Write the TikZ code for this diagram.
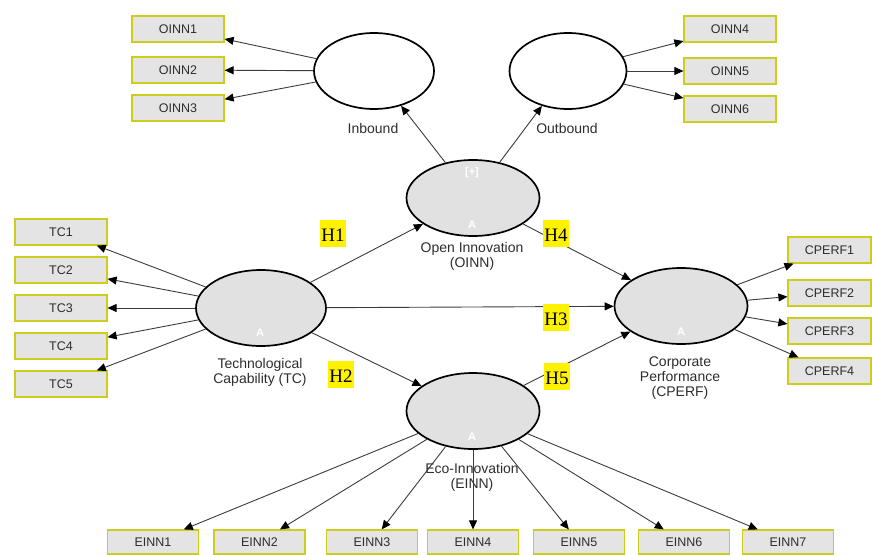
\documentclass[tikz,border=0pt]{standalone}
\usepackage{fontspec}
\setmainfont{Liberation Sans}
\newfontfamily\hypfont{Liberation Serif}
\usetikzlibrary{shapes.geometric,arrows.meta}
\definecolor{boxgray}{RGB}{228,228,228}
\definecolor{boxline}{RGB}{205,205,30}
\definecolor{latgray}{RGB}{225,225,225}
\definecolor{txtgray}{RGB}{45,45,45}
\definecolor{lnkgray}{RGB}{60,60,60}
\tikzset{
  indic/.style={draw=boxline, fill=boxgray, line width=1.2pt, minimum width=92pt,
    minimum height=26pt, inner sep=0pt, font=\fontsize{12.5}{15}\selectfont, text=txtgray},
  latent/.style={ellipse, draw, line width=1.7pt, fill=latgray, minimum width=133pt,
    minimum height=76pt, inner sep=0pt},
  ordre/.style={latent, fill=white, minimum width=120pt},
  lien/.style={draw=lnkgray, line width=0.9pt, -{Triangle[length=9pt,width=8pt,color=black]}},
  etiq/.style={align=center, font=\fontsize{14}{15}\selectfont, text=txtgray},
  hyp/.style={fill=yellow, inner xsep=1pt, inner ysep=3.5pt, text height=18pt,
    text depth=2pt, font=\hypfont\fontsize{19}{19}\selectfont},
  marque/.style={text=white, font=\fontsize{11}{11}\selectfont\bfseries}
}
\begin{document}
\begin{tikzpicture}[x=1pt,y=-1pt] % ------ Le modele structurel -----------------
    \useasboundingbox (0,0) rectangle (872,554);
    \node [ordre] (inb) at (374,71) {};
    \node [ordre, minimum width=117pt] (outb) at (568,71) {};
    \node [latent] (oinn) at (473,198) {};
    \node [latent, minimum width=130pt] (tc) at (261,308) {};
    \node [latent] (cperf) at (681,306) {};
    \node [latent] (einn) at (473,411) {};
    \foreach \i/\y in {1/29,2/70,3/108} \node [indic] (oinn\i) at (178,\y) {OINN\i};
    \foreach \i/\y in {4/29,5/71,6/109} \node [indic] (oinn\i) at (730,\y) {OINN\i};
    \foreach \i/\y in {1/232,2/270,3/308,4/346,5/384} \node [indic] (tc\i) at (61,\y) {TC\i};
    \foreach \i/\y in {1/250,2/293,3/331,4/371}
      \node [indic, minimum width=83pt] (cperf\i) at (829.5,\y) {CPERF\i};
    \foreach \i/\x in {1/153,2/259.5,3/372,4/473,5/579,6/684,7/788}
      \node [indic, minimum height=24pt, minimum width=91pt] (einn\i) at (\x,542) {EINN\i};
    \node [etiq] (lbinb) at (373,128) {Inbound};
    \node [etiq] (lboutb) at (567,128) {Outbound};
    \node [etiq] (lboinn) at (472,256) {Open Innovation\\(OINN)};
    \node [etiq] (lbtc) at (260,372) {Technological\\Capability (TC)};
    \node [etiq] (lbcperf) at (680,378) {Corporate\\Performance\\(CPERF)};
    \node [etiq] (lbeinn) at (472,477) {Eco-Innovation\\(EINN)};
    \node [marque] (plus) at (472,173) {[+]};
    \node [marque] (aoinn) at (472,225) {A};
    \node [marque] (atc) at (260,333) {A};
    \node [marque] (acperf) at (681,332) {A};
    \node [marque] (aeinn) at (472,437) {A};
    \draw [lien] (oinn) -- (inb);
    \draw [lien] (oinn) -- (outb);
    \foreach \i in {1,2,3} \draw [lien] (inb) -- (oinn\i);
    \foreach \i in {4,5,6} \draw [lien] (outb) -- (oinn\i);
    \foreach \i in {1,...,5} \draw [lien] (tc) -- (tc\i);
    \foreach \i in {1,...,4} \draw [lien] (cperf) -- (cperf\i);
    \foreach \i in {1,...,7} \draw [lien] (einn) -- (einn\i);
    \draw [lien] (tc) -- (oinn);
    \draw [lien] (tc) -- (cperf);
    \draw [lien] (tc) -- (einn);
    \draw [lien] (oinn) -- (cperf);
    \draw [lien] (einn) -- (cperf);
    \node [hyp] (h1) at (333,233) {H1};
    \node [hyp] (h2) at (341,374) {H2};
    \node [hyp] (h3) at (556,317) {H3};
    \node [hyp] (h4) at (556,233) {H4};
    \node [hyp] (h5) at (557,376) {H5};
\end{tikzpicture}
\end{document}
